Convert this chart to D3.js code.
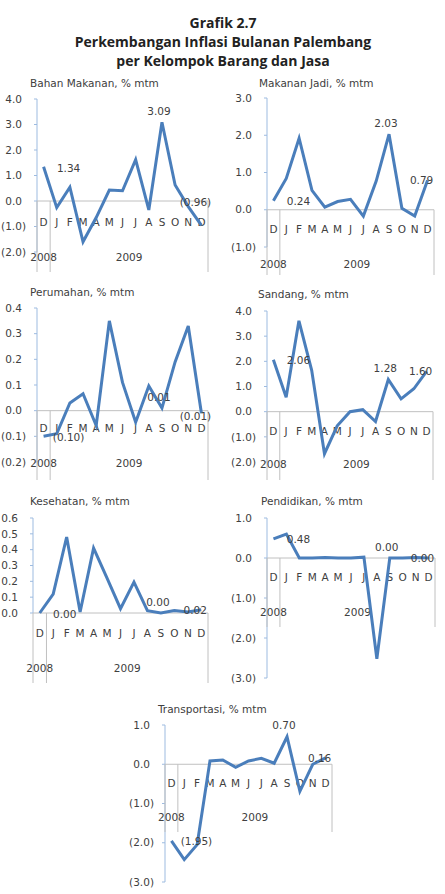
<!DOCTYPE html>
<html>
<head>
<meta charset="utf-8">
<script src="https://cdn.jsdelivr.net/npm/d3@7"></script>
<style>
  body { margin: 0; background: #fff; }
  svg { display: block; }
  .ttl { font-family: "Open Sans", sans-serif; font-weight: 700; font-size: 14px; fill: #222; }
  .txt { font-family: "DejaVu Sans", sans-serif; font-size: 10.5px; fill: #404040; }
</style>
</head>
<body>
<div id="chart"></div>
<script>
// Data
let months = ["D", "J", "F", "M", "A", "M", "J", "J", "A", "S", "O", "N", "D"];
let years = ["2008", "2009"];
let titles = [
  "Bahan Makanan, % mtm",
  "Makanan Jadi, % mtm",
  "Perumahan, % mtm",
  "Sandang, % mtm",
  "Kesehatan, % mtm",
  "Pendidikan, % mtm",
  "Transportasi, % mtm"
];
let bahanMakanan = [1.34, -0.26, 0.54, -1.6, -0.65, 0.43, 0.4, 1.62, -0.35, 3.09, 0.63, -0.22, -0.96];
let makananJadi = [0.24, 0.84, 1.92, 0.52, 0.07, 0.22, 0.28, -0.17, 0.77, 2.03, 0.04, -0.17, 0.79];
let perumahan = [-0.1, -0.09, 0.03, 0.066, -0.058, 0.35, 0.11, -0.045, 0.096, 0.01, 0.19, 0.33, -0.01];
let sandang = [2.06, 0.57, 3.61, 1.64, -1.67, -0.56, 0.0, 0.08, -0.39, 1.28, 0.51, 0.91, 1.6];
let kesehatan = [0.0, 0.12, 0.48, 0.006, 0.41, 0.22, 0.027, 0.195, 0.015, 0.0, 0.015, 0.006, 0.02];
let pendidikan = [0.48, 0.6, 0.0, 0.0, 0.01, 0.0, 0.0, 0.02, -2.52, 0.0, 0.0, 0.01, 0.0];
let transportasi = [-1.95, -2.43, -2.05, 0.085, 0.11, -0.08, 0.085, 0.15, 0.025, 0.7, -0.69, 0.0, 0.16];
let labelIdx = [0, 9, 12];

// Layout of each small chart
let panels = [
  { values: bahanMakanan, dom: [-2, 4], step: 1, left: 37, right: 208, top: 99, bottom: 252, tx: 30, ty: 83, catY: 222, yearY: 257, sepB: 272, lastDy: -23 },
  { values: makananJadi, dom: [-1, 3], step: 1, left: 267, right: 434, top: 98, bottom: 247, tx: 259, ty: 83, catY: 229, yearY: 264, sepB: 275, lastDy: 0 },
  { values: perumahan, dom: [-0.2, 0.4], step: 0.1, left: 37, right: 208, top: 308, bottom: 462, tx: 30, ty: 292, catY: 428, yearY: 463, sepB: 480, lastDy: 3 },
  { values: sandang, dom: [-2, 4], step: 1, left: 267, right: 433, top: 311, bottom: 462, tx: 258, ty: 294, catY: 431, yearY: 464, sepB: 480, lastDy: 0 },
  { values: kesehatan, dom: [0, 0.6], step: 0.1, left: 33, right: 208, top: 518, bottom: 613, tx: 30, ty: 501, catY: 633, yearY: 668, sepB: 683, lastDy: 0 },
  { values: pendidikan, dom: [-3, 1], step: 1, left: 267, right: 435, top: 518, bottom: 678, tx: 261, ty: 501, catY: 577, yearY: 612, sepB: 627, lastDy: 0 },
  { values: transportasi, dom: [-3, 1], step: 1, left: 165, right: 332, top: 725, bottom: 882, tx: 158, ty: 709, catY: 783, yearY: 817, sepB: 832, lastDy: 0 }
];

let width = 445;
let height = 894;
let lineColor = "#4a7ebb";
let gridColor = "#c0c0c0";
let yAxisColor = "#9dbbe0";

let svg = d3
  .select("#chart")
  .append("svg")
  .attr("width", width)
  .attr("height", height);

// Main title
let titleLines = ["Grafik 2.7", "Perkembangan Inflasi Bulanan Palembang", "per Kelompok Barang dan Jasa"];
svg
  .selectAll("text.ttl")
  .data(titleLines)
  .enter()
  .append("text")
  .attr("class", "ttl")
  .attr("x", 223)
  .attr("y", (d, i) => 28 + i * 19)
  .attr("text-anchor", "middle")
  .text((d) => d);

function fmtTick(v) {
  let s = Math.abs(v).toFixed(1);
  return v < -1e-9 ? "(" + s + ")" : s;
}

function fmtLabel(v) {
  let s = Math.abs(v).toFixed(2);
  return v < 0 ? "(" + s + ")" : s;
}

panels.forEach(function (p, k) {
  let g = svg.append("g");
  let x = d3
    .scaleBand()
    .domain(d3.range(months.length))
    .range([p.left, p.right]);
  let y = d3.scaleLinear().domain(p.dom).range([p.bottom, p.top]);
  let cx = (i) => x(i) + x.bandwidth() / 2;
  let y0 = y(0);

  // panel title
  g.append("text")
    .attr("class", "txt")
    .attr("x", p.tx)
    .attr("y", p.ty)
    .attr("dy", "0.35em")
    .text(titles[k]);

  // y axis ticks
  let n = Math.round((p.dom[1] - p.dom[0]) / p.step);
  let ticks = d3.range(n + 1).map((i) => +(p.dom[0] + i * p.step).toFixed(2));
  g.append("line")
    .attr("x1", p.left)
    .attr("x2", p.left)
    .attr("y1", p.top)
    .attr("y2", p.bottom)
    .attr("stroke", yAxisColor)
    .attr("stroke-width", 1);
  g.selectAll("line.tk")
    .data(ticks)
    .enter()
    .append("line")
    .attr("class", "tk")
    .attr("x1", p.left - 3)
    .attr("x2", p.left)
    .attr("y1", (d) => y(d))
    .attr("y2", (d) => y(d))
    .attr("stroke", yAxisColor);
  g.selectAll("text.tl")
    .data(ticks)
    .enter()
    .append("text")
    .attr("class", "txt tl")
    .attr("x", (d) => (d < 0 ? p.left - 11 : p.left - 15))
    .attr("y", (d) => y(d))
    .attr("dy", "0.35em")
    .attr("text-anchor", "end")
    .text((d) => fmtTick(d));

  // category axis at zero with group separators
  g.append("line")
    .attr("x1", p.left)
    .attr("x2", p.right)
    .attr("y1", y0)
    .attr("y2", y0)
    .attr("stroke", gridColor);
  let seps = [p.left, x(1), p.right];
  g.selectAll("line.sep")
    .data(seps)
    .enter()
    .append("line")
    .attr("class", "sep")
    .attr("x1", (d) => d)
    .attr("x2", (d) => d)
    .attr("y1", y0)
    .attr("y2", p.sepB)
    .attr("stroke", gridColor);
  g.selectAll("text.cat")
    .data(months)
    .enter()
    .append("text")
    .attr("class", "txt cat")
    .attr("x", (d, i) => cx(i))
    .attr("y", p.catY)
    .attr("dy", "0.35em")
    .attr("text-anchor", "middle")
    .text((d) => d);
  g.selectAll("text.yr")
    .data(years)
    .enter()
    .append("text")
    .attr("class", "txt yr")
    .attr("x", (d, i) => (i === 0 ? cx(0) : (x(1) + p.right) / 2))
    .attr("y", p.yearY)
    .attr("dy", "0.35em")
    .attr("text-anchor", "middle")
    .text((d) => d);

  // series line
  let line = d3
    .line()
    .x((d, i) => cx(i))
    .y((d) => y(d));
  g.append("path")
    .datum(p.values)
    .attr("d", line)
    .attr("fill", "none")
    .attr("stroke", lineColor)
    .attr("stroke-width", 3)
    .attr("stroke-linejoin", "miter");

  // data labels: first D (right), S (above), last D
  let offs = [
    [25, 1],
    [-3, -11],
    [-6, p.lastDy]
  ];
  g.selectAll("text.dl")
    .data(labelIdx)
    .enter()
    .append("text")
    .attr("class", "txt dl")
    .attr("x", (d, j) => cx(d) + offs[j][0])
    .attr("y", (d, j) => y(p.values[d]) + offs[j][1])
    .attr("dy", "0.35em")
    .attr("text-anchor", "middle")
    .text((d) => fmtLabel(p.values[d]));
});
</script>
</body>
</html>
